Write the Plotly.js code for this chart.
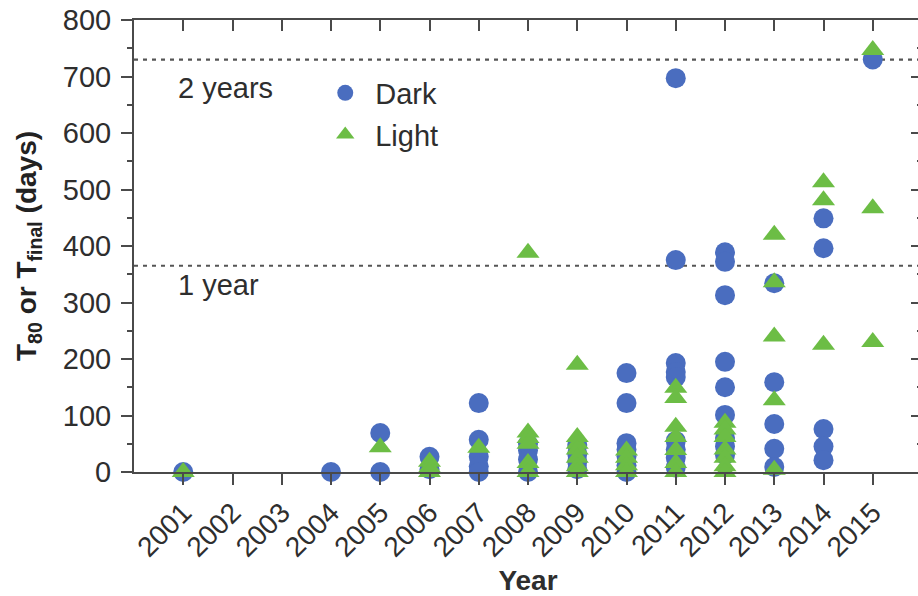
<!DOCTYPE html>
<html>
<head>
<meta charset="utf-8">
<script src="https://cdn.plot.ly/plotly-3.0.1.min.js"></script>
<style>
  html, body { margin: 0; padding: 0; overflow: hidden; background: #fff; }
  #chart { width: 922px; height: 596px; }
</style>
</head>
<body>
<div id="chart"></div>
<script>
// Lifetime (T80 or Tfinal, days) by publication year
const darkYears  = [2001, 2004, 2005, 2005, 2006, 2006,
  2007, 2007, 2007, 2007, 2007,
  2008, 2008, 2008, 2008,
  2009, 2009, 2009, 2009,
  2010, 2010, 2010, 2010, 2010, 2010, 2010,
  2011, 2011, 2011, 2011, 2011, 2011, 2011, 2011, 2011,
  2012, 2012, 2012, 2012, 2012, 2012, 2012, 2012, 2012,
  2013, 2013, 2013, 2013, 2013,
  2014, 2014, 2014, 2014, 2014,
  2015];
const darkDays   = [0, 0, 69, 0, 27, 5,
  122, 57, 27, 10, 0,
  50, 38, 22, 0,
  48, 32, 18, 5,
  175, 122, 51, 40, 28, 12, 0,
  697, 375, 193, 177, 168, 55, 40, 25, 8,
  389, 372, 313, 195, 150, 101, 60, 45, 30,
  334, 159, 85, 41, 9,
  449, 396, 76, 45, 21,
  730];

const lightYears = [2001, 2005, 2006, 2006, 2006, 2007,
  2008, 2008, 2008, 2008, 2008, 2008,
  2009, 2009, 2009, 2009, 2009, 2009, 2009,
  2010, 2010, 2010, 2010,
  2011, 2011, 2011, 2011, 2011, 2011, 2011,
  2012, 2012, 2012, 2012, 2012, 2012, 2012,
  2013, 2013, 2013, 2013, 2013,
  2014, 2014, 2014,
  2015, 2015, 2015];
const lightDays  = [0, 44, 18, 8, 0, 43,
  388, 70, 60, 50, 16, 0,
  190, 62, 50, 40, 25, 10, 0,
  38, 25, 12, 0,
  149, 131, 80, 62, 39, 16, 0,
  87, 75, 62, 40, 25, 10, 0,
  420, 336, 240, 127, 4,
  513, 481, 225,
  747, 467, 230];

const yearTicks = [2001, 2002, 2003, 2004, 2005, 2006, 2007, 2008,
  2009, 2010, 2011, 2012, 2013, 2014, 2015];
const dayTicks = [0, 100, 200, 300, 400, 500, 600, 700, 800];
const referenceLines = [365, 730];   // 1 year, 2 years
const referenceLabels = ['1 year', '2 years'];

const FONT = 'Liberation Sans, Arial, Helvetica, sans-serif';
const AXIS = '#4a4a4a';
const TEXT = '#2e2e2e';
const BLUE = '#4a6dbf';
const GREEN = '#6cbd45';

const traces = [
  {
    x: darkYears, y: darkDays, name: 'Dark', type: 'scatter', mode: 'markers',
    legendgroup: 'dark',
    marker: { symbol: 'circle', size: 20, color: BLUE, line: { width: 0 } },
    cliponaxis: false
  },
  {
    x: lightYears, y: lightDays, name: 'Light', type: 'scatter', mode: 'markers',
    legendgroup: 'light',
    marker: { symbol: 'triangle-up', size: 20, color: GREEN, line: { width: 0 } },
    cliponaxis: false
  },
  // mirrored top/right frame carrying inward ticks
  { x: [2000], y: [0], xaxis: 'x2', yaxis: 'y2', mode: 'markers',
    marker: { opacity: 0 }, showlegend: false, hoverinfo: 'skip' }
];

const shapes = referenceLines.map(v => ({
  type: 'line', xref: 'paper', x0: 0, x1: 1, yref: 'y', y0: v, y1: v,
  line: { color: '#555', width: 2.2, dash: '4px,5px' }, layer: 'below'
}));

const annotations = [
  { text: referenceLabels[1], x: 2000.86, y: 680, xref: 'x', yref: 'y',
    xanchor: 'left', yanchor: 'middle', showarrow: false,
    font: { family: FONT, size: 29, color: TEXT } },
  { text: referenceLabels[0], x: 2000.86, y: 331, xref: 'x', yref: 'y',
    xanchor: 'left', yanchor: 'middle', showarrow: false,
    font: { family: FONT, size: 29, color: TEXT } }
];

const layout = {
  width: 922, height: 596,
  margin: { l: 134, r: 0, t: 20, b: 124 },
  paper_bgcolor: '#fff', plot_bgcolor: '#fff',
  font: { family: FONT, color: TEXT },
  showlegend: true,
  legend: {
    x: 0.23, y: 0.895, xanchor: 'left', yanchor: 'top',
    bgcolor: 'rgba(0,0,0,0)', traceorder: 'grouped', tracegroupgap: 1,
    itemwidth: 50, itemsizing: 'trace',
    font: { family: FONT, size: 29, color: TEXT }
  },
  xaxis: {
    range: [2000, 2016], tickvals: yearTicks, ticktext: yearTicks.map(String),
    tickangle: -45, ticks: 'outside', ticklen: 11, tickwidth: 2, tickcolor: AXIS,
    showline: true, linewidth: 2, linecolor: AXIS, showgrid: false, zeroline: false,
    tickfont: { family: FONT, size: 28, color: TEXT },
    title: { text: '<b>Year</b>', font: { family: FONT, size: 28, color: TEXT }, standoff: 10 }
  },
  yaxis: {
    range: [0, 800], tickvals: dayTicks, ticks: 'outside', ticklen: 11, tickwidth: 2,
    tickcolor: AXIS, showline: true, linewidth: 2, linecolor: AXIS,
    showgrid: false, zeroline: false, ticklabelstandoff: 4,
    minor: { dtick: 50, tick0: 0, ticks: 'outside', ticklen: 5, tickwidth: 2, tickcolor: AXIS, showgrid: false },
    tickfont: { family: FONT, size: 29, color: TEXT },
    title: { text: '<b>T<sub>80</sub> or T<sub>final</sub> (days)</b>',
      font: { family: FONT, size: 28, color: '#222' }, standoff: 18 }
  },
  xaxis2: {
    overlaying: 'x', side: 'top', range: [2000, 2016], tickvals: yearTicks,
    ticks: 'inside', ticklen: 11, tickwidth: 2, tickcolor: AXIS, showticklabels: false,
    showline: true, linewidth: 2, linecolor: AXIS, showgrid: false, zeroline: false
  },
  yaxis2: {
    overlaying: 'y', side: 'right', range: [0, 800], tickvals: dayTicks,
    ticks: 'inside', ticklen: 11, tickwidth: 2, tickcolor: AXIS, showticklabels: false,
    minor: { dtick: 50, tick0: 0, ticks: 'inside', ticklen: 5, tickwidth: 2, tickcolor: AXIS, showgrid: false },
    showline: true, linewidth: 2, linecolor: AXIS, showgrid: false, zeroline: false
  },
  shapes: shapes,
  annotations: annotations
};

Plotly.newPlot('chart', traces, layout, { displayModeBar: false, staticPlot: true });
</script>
</body>
</html>
